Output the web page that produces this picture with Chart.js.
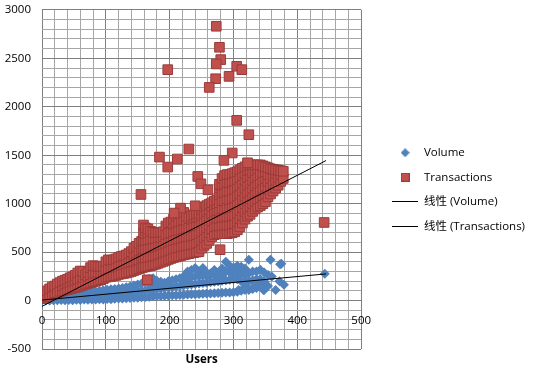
<!DOCTYPE html>
<html>
<head>
<meta charset="utf-8">
<script src="https://cdn.jsdelivr.net/npm/chart.js@4.4.1/dist/chart.umd.min.js"></script>
<style>
  html, body { margin: 0; padding: 0; background: #fff; }
  canvas { display: block; }
</style>
</head>
<body>
<canvas id="chart" width="536" height="374"></canvas>
<script>
// [users, value] pairs
const volumePoints = [
  [0,0],[0,8],[6,2],[6,14],[12,0],[12,20],[18,4],[18,28],[24,2],[24,34],[30,5],[30,40],
  [36,3],[36,30],[36,48],[42,6],[42,34],[42,55],[48,4],[48,38],[48,60],[54,8],[54,42],[54,66],
  [60,6],[60,44],[60,72],[66,10],[66,48],[66,78],[72,8],[72,50],[72,84],[78,12],[78,52],[78,90],
  [84,10],[84,55],[84,95],[90,14],[90,58],[90,100],[96,12],[96,60],[96,106],[102,16],[102,62],[102,112],
  [108,14],[108,65],[108,116],[114,18],[114,68],[114,120],[120,20],[120,70],[120,125],[126,22],[126,75],[126,130],
  [132,24],[132,80],[132,138],[138,26],[138,85],[138,145],[144,28],[144,90],[144,155],[150,30],[150,95],[150,165],
  [156,34],[156,100],[156,175],[162,38],[162,105],[162,190],[168,40],[168,110],[168,170],[168,225],
  [174,44],[174,115],[174,175],[174,230],[180,46],[180,120],[180,180],[180,205],[186,48],[186,125],[186,180],[186,195],
  [192,50],[192,130],[192,185],[198,52],[198,135],[198,200],[204,54],[204,140],[204,210],[210,56],[210,145],[210,220],
  [216,58],[216,150],[216,230],[222,60],[222,155],[222,210],[222,250],[228,62],[228,160],[228,230],[228,300],
  [234,64],[234,165],[234,240],[234,315],[240,66],[240,170],[240,250],[240,335],[246,68],[246,175],[246,250],[246,300],
  [252,70],[252,180],[252,260],[252,335],[258,72],[258,185],[258,250],[258,290],[264,74],[264,190],[264,260],[264,280],
  [270,76],[270,195],[270,260],[270,315],[276,78],[276,200],[276,270],[276,285],[282,80],[282,205],[282,270],[282,330],
  [288,82],[288,210],[288,300],[288,400],[294,84],[294,215],[294,290],[294,360],[300,86],[300,220],[300,280],[300,340],
  [306,90],[306,220],[306,290],[306,360],[312,100],[312,200],[312,280],[312,350],[318,110],[318,190],[318,260],[318,330],
  [324,110],[324,200],[324,283],[324,420],[330,120],[330,210],[330,300],[336,130],[336,220],[336,300],
  [342,145],[342,220],[342,317],[348,110],[348,200],[348,290],[354,150],[354,265],[358,420],[360,248],
  [366,110],[372,200],[373,376],[375,379],[379,162],[347,110],[308,110],[319,145],[332,145],[339,196],
  [443,276]
];

const transactionPoints = [
  [0,20],[0,60],[4,30],[4,80],[8,40],[8,100],[12,55],[12,120],[16,65],[16,140],[20,80],[20,150],
  [24,85],[24,170],[28,95],[28,185],[32,100],[32,150],[32,200],[36,108],[36,170],[36,210],
  [40,115],[40,180],[40,220],[44,120],[44,190],[44,235],[48,128],[48,200],[48,245],[52,135],[52,210],[52,260],
  [56,140],[56,220],[56,285],[60,150],[60,230],[60,305],[64,160],[64,240],[64,300],[68,170],[68,265],
  [72,178],[72,250],[72,290],[76,185],[76,265],[76,340],[80,195],[80,280],[80,360],[84,200],[84,285],[84,355],
  [88,208],[88,290],[88,350],[92,215],[92,290],[92,350],[96,225],[96,300],[96,355],[100,240],[100,320],[100,400],
  [104,245],[104,330],[104,420],[108,250],[108,335],[108,415],[112,255],[112,340],[112,420],[116,260],[116,345],[116,430],
  [120,270],[120,355],[120,445],[124,275],[124,365],[124,455],[128,280],[128,370],[128,460],[132,285],[132,380],[132,470],
  [136,292],[136,390],[136,485],[140,300],[140,400],[140,505],[144,310],[144,400],[144,480],[144,540],
  [148,320],[148,410],[148,490],[148,560],[152,330],[152,420],[152,510],[152,590],[156,340],[156,430],[156,520],[156,610],
  [159,345],[159,440],[159,530],[159,620],[159,700],[159,780],[162,348],[162,440],[162,530],[162,620],[162,690],[162,750],
  [166,355],[166,445],[166,535],[166,625],[166,700],[166,740],[170,360],[170,450],[170,540],[170,630],[170,715],
  [174,368],[174,455],[174,545],[174,635],[174,705],[178,375],[178,460],[178,550],[178,640],[178,700],
  [182,385],[182,470],[182,560],[182,650],[182,700],[186,395],[186,480],[186,570],[186,650],[186,700],
  [190,405],[190,490],[190,580],[190,660],[190,710],[194,415],[194,500],[194,590],[194,680],[194,770],
  [198,425],[198,510],[198,600],[198,690],[198,800],[202,435],[202,520],[202,610],[202,700],[202,810],
  [206,445],[206,530],[206,620],[206,710],[206,790],[206,840],[210,450],[210,540],[210,630],[210,720],[210,800],[210,870],
  [214,458],[214,545],[214,635],[214,725],[214,810],[214,895],[218,465],[218,550],[218,640],[218,730],[218,820],[218,915],
  [222,472],[222,560],[222,650],[222,740],[222,830],[222,910],[226,478],[226,565],[226,655],[226,745],[226,830],[226,870],
  [230,485],[230,570],[230,660],[230,750],[230,850],[234,490],[234,575],[234,665],[234,755],[234,840],[234,870],
  [238,495],[238,580],[238,670],[238,760],[238,850],[238,885],[242,500],[242,590],[242,680],[242,770],[242,860],[242,895],
  [246,505],[246,600],[246,690],[246,780],[246,860],[246,905],[250,540],[250,620],[250,710],[250,800],[250,880],[250,940],
  [254,570],[254,650],[254,730],[254,820],[254,900],[254,965],[258,590],[258,670],[258,750],[258,840],[258,920],[258,980],
  [262,620],[262,700],[262,780],[262,860],[262,940],[262,995],[266,660],[266,740],[266,820],[266,900],[266,970],[266,1010],
  [270,680],[270,760],[270,840],[270,920],[270,990],[270,1025],[274,690],[274,770],[274,850],[274,930],[274,1000],[274,1040],
  [278,690],[278,770],[278,850],[278,930],[278,1010],[278,1090],[278,1160],[278,1200],
  [282,690],[282,775],[282,860],[282,945],[282,1030],[282,1110],[282,1190],[282,1260],
  [286,690],[286,775],[286,860],[286,945],[286,1030],[286,1115],[286,1200],[286,1290],
  [290,690],[290,780],[290,870],[290,960],[290,1050],[290,1130],[290,1220],[290,1300],
  [294,695],[294,780],[294,865],[294,950],[294,1040],[294,1130],[294,1215],[294,1300],
  [298,700],[298,785],[298,870],[298,960],[298,1050],[298,1140],[298,1225],[298,1310],
  [302,710],[302,795],[302,880],[302,970],[302,1060],[302,1150],[302,1235],[302,1320],
  [306,730],[306,815],[306,900],[306,990],[306,1080],[306,1170],[306,1250],[306,1330],
  [310,760],[310,845],[310,930],[310,1015],[310,1100],[310,1185],[310,1270],[310,1350],
  [314,800],[314,880],[314,960],[314,1045],[314,1130],[314,1210],[314,1290],[314,1365],
  [318,840],[318,920],[318,1000],[318,1080],[318,1160],[318,1240],[318,1310],[318,1380],
  [322,870],[322,950],[322,1030],[322,1110],[322,1190],[322,1270],[322,1340],[322,1395],
  [326,890],[326,970],[326,1050],[326,1130],[326,1210],[326,1290],[326,1350],[326,1400],
  [330,920],[330,1000],[330,1080],[330,1160],[330,1240],[330,1320],[330,1400],
  [334,945],[334,1025],[334,1105],[334,1185],[334,1265],[334,1340],[334,1400],
  [338,965],[338,1045],[338,1125],[338,1205],[338,1285],[338,1360],[338,1400],
  [342,980],[342,1060],[342,1140],[342,1220],[342,1300],[342,1400],
  [346,1000],[346,1080],[346,1160],[346,1240],[346,1320],[346,1390],
  [350,1020],[350,1100],[350,1180],[350,1260],[350,1330],[350,1380],
  [354,1070],[354,1150],[354,1230],[354,1300],[354,1370],[358,1100],[358,1180],[358,1260],[358,1360],
  [362,1130],[362,1210],[362,1290],[362,1355],[366,1160],[366,1240],[366,1310],[366,1350],
  [370,1190],[370,1270],[370,1345],[374,1230],[374,1300],[374,1340],[378,1260],[378,1335],
  // scattered ones
  [442,806],[155,1095],[197,2383],[273,2831],[278,2614],[280,2487],[273,2442],[305,2418],[313,2383],
  [293,2314],[272,2290],[262,2200],[305,1860],[324,1712],[230,1564],[184,1481],[212,1461],[197,1378],
  [298,1523],[285,1447],[322,1422],[244,1281],[249,1205],[260,1143],[240,978],[217,954],[207,903],
  [165,214],[279,525]
];

// linear trend lines, ends
const trendUsers = [0, 445];
const trendVolume = [5, 275];
const trendTransactions = [-60, 1445];

const labels = ['Volume', 'Transactions', '线性 (Volume)', '线性 (Transactions)'];

const FONT = "'Open Sans', 'Noto Sans CJK SC', sans-serif";
const MAJOR = '#7f7f7f';
const MINOR = '#a6a6a6';

function toXY(pairs) {
    return pairs.map(p => ({x: p[0], y: p[1]}));
}

function makeIcon(w, h, draw) {
    const c = document.createElement('canvas');
    c.width = w;
    c.height = h;
    draw(c.getContext('2d'));
    return c;
}

const diamondIcon = makeIcon(9, 9, g => {
    g.fillStyle = '#4f81bd';
    g.beginPath();
    g.moveTo(4.5, 0); g.lineTo(9, 4.5); g.lineTo(4.5, 9); g.lineTo(0, 4.5);
    g.closePath();
    g.fill();
});
const squareIcon = makeIcon(9, 9, g => {
    g.fillStyle = '#c0504d';
    g.fillRect(0, 0, 9, 9);
    g.strokeStyle = '#9b3b38';
    g.strokeRect(0.5, 0.5, 8, 8);
});
const lineIcon = makeIcon(26, 1, g => {
    g.fillStyle = '#000';
    g.fillRect(0, 0, 26, 1);
});
const legendIcons = [diamondIcon, squareIcon, lineIcon, lineIcon];

const ctx = document.getElementById('chart').getContext('2d');
new Chart(ctx, {
    type: 'scatter',
    data: {
        datasets: [
            {
                label: labels[0],
                data: toXY(volumePoints),
                pointStyle: 'rectRot',
                pointRadius: 5,
                backgroundColor: '#4f81bd',
                borderColor: '#4f81bd',
                borderWidth: 0,
                order: 2
            },
            {
                label: labels[1],
                data: toXY(transactionPoints),
                pointStyle: 'rect',
                pointRadius: 6.8,
                backgroundColor: '#c0504d',
                borderColor: '#9b3b38',
                borderWidth: 1,
                order: 1
            },
            {
                label: labels[2],
                data: trendUsers.map((u, i) => ({x: u, y: trendVolume[i]})),
                showLine: true,
                pointRadius: 0,
                borderColor: '#000',
                borderWidth: 1,
                order: 0
            },
            {
                label: labels[3],
                data: trendUsers.map((u, i) => ({x: u, y: trendTransactions[i]})),
                showLine: true,
                pointRadius: 0,
                borderColor: '#000',
                borderWidth: 1,
                order: 0
            }
        ]
    },
    options: {
        responsive: false,
        animation: false,
        devicePixelRatio: 1,
        layout: {padding: {top: 5, right: 1, bottom: 0, left: 0}},
        scales: {
            x: {
                type: 'linear',
                axis: 'x',
                position: {y: 0},
                min: 0,
                max: 500,
                border: {display: false},
                grid: {
                    color: c => (c.tick && c.tick.value % 100 === 0) ? MAJOR : MINOR,
                    drawTicks: false
                },
                ticks: {
                    stepSize: 20,
                    autoSkip: false,
                    maxRotation: 0,
                    padding: 13,
                    color: '#000',
                    font: {family: FONT, size: 11.5},
                    callback: v => (v % 100 === 0 ? v : '')
                }
            },
            x2: {
                type: 'linear',
                axis: 'x',
                position: 'bottom',
                min: 0,
                max: 500,
                grid: {display: false},
                border: {display: false},
                ticks: {display: false},
                title: {
                    display: true,
                    text: 'Users',
                    color: '#000',
                    font: {family: FONT, size: 11.5, weight: 'bold'},
                    padding: {top: 0, bottom: 7}
                },
                afterFit: s => { s.height = 25; }
            },
            y: {
                type: 'linear',
                axis: 'y',
                position: 'left',
                min: -500,
                max: 3000,
                border: {display: false},
                grid: {
                    color: c => (c.tick && c.tick.value % 500 === 0) ? MAJOR : MINOR,
                    drawTicks: true,
                    tickLength: 8,
                    tickColor: 'rgba(0,0,0,0)'
                },
                ticks: {
                    stepSize: 100,
                    autoSkip: false,
                    padding: 3,
                    color: '#000',
                    font: {family: FONT, size: 11.5},
                    callback: v => (v % 500 === 0 ? v : '')
                },
                afterFit: s => { s.width = 42; }
            },
            y2: {
                type: 'linear',
                axis: 'y',
                position: 'right',
                min: 0,
                max: 1,
                grid: {display: false},
                border: {display: false},
                ticks: {display: false},
                afterFit: s => { s.width = 18; }
            }
        },
        plugins: {
            tooltip: {enabled: false},
            legend: {
                position: 'right',
                maxWidth: 220,
                labels: {
                    usePointStyle: true,
                    pointStyleWidth: 26,
                    padding: 13,
                    color: '#000',
                    font: {family: FONT, size: 11.5},
                    generateLabels: chart => chart.data.datasets.map((ds, i) => ({
                        text: ds.label,
                        pointStyle: legendIcons[i],
                        datasetIndex: i,
                        fontColor: '#000',
                        fillStyle: 'transparent',
                        strokeStyle: 'transparent',
                        lineWidth: 0,
                        hidden: false
                    }))
                }
            }
        }
    }
});
</script>
</body>
</html>
